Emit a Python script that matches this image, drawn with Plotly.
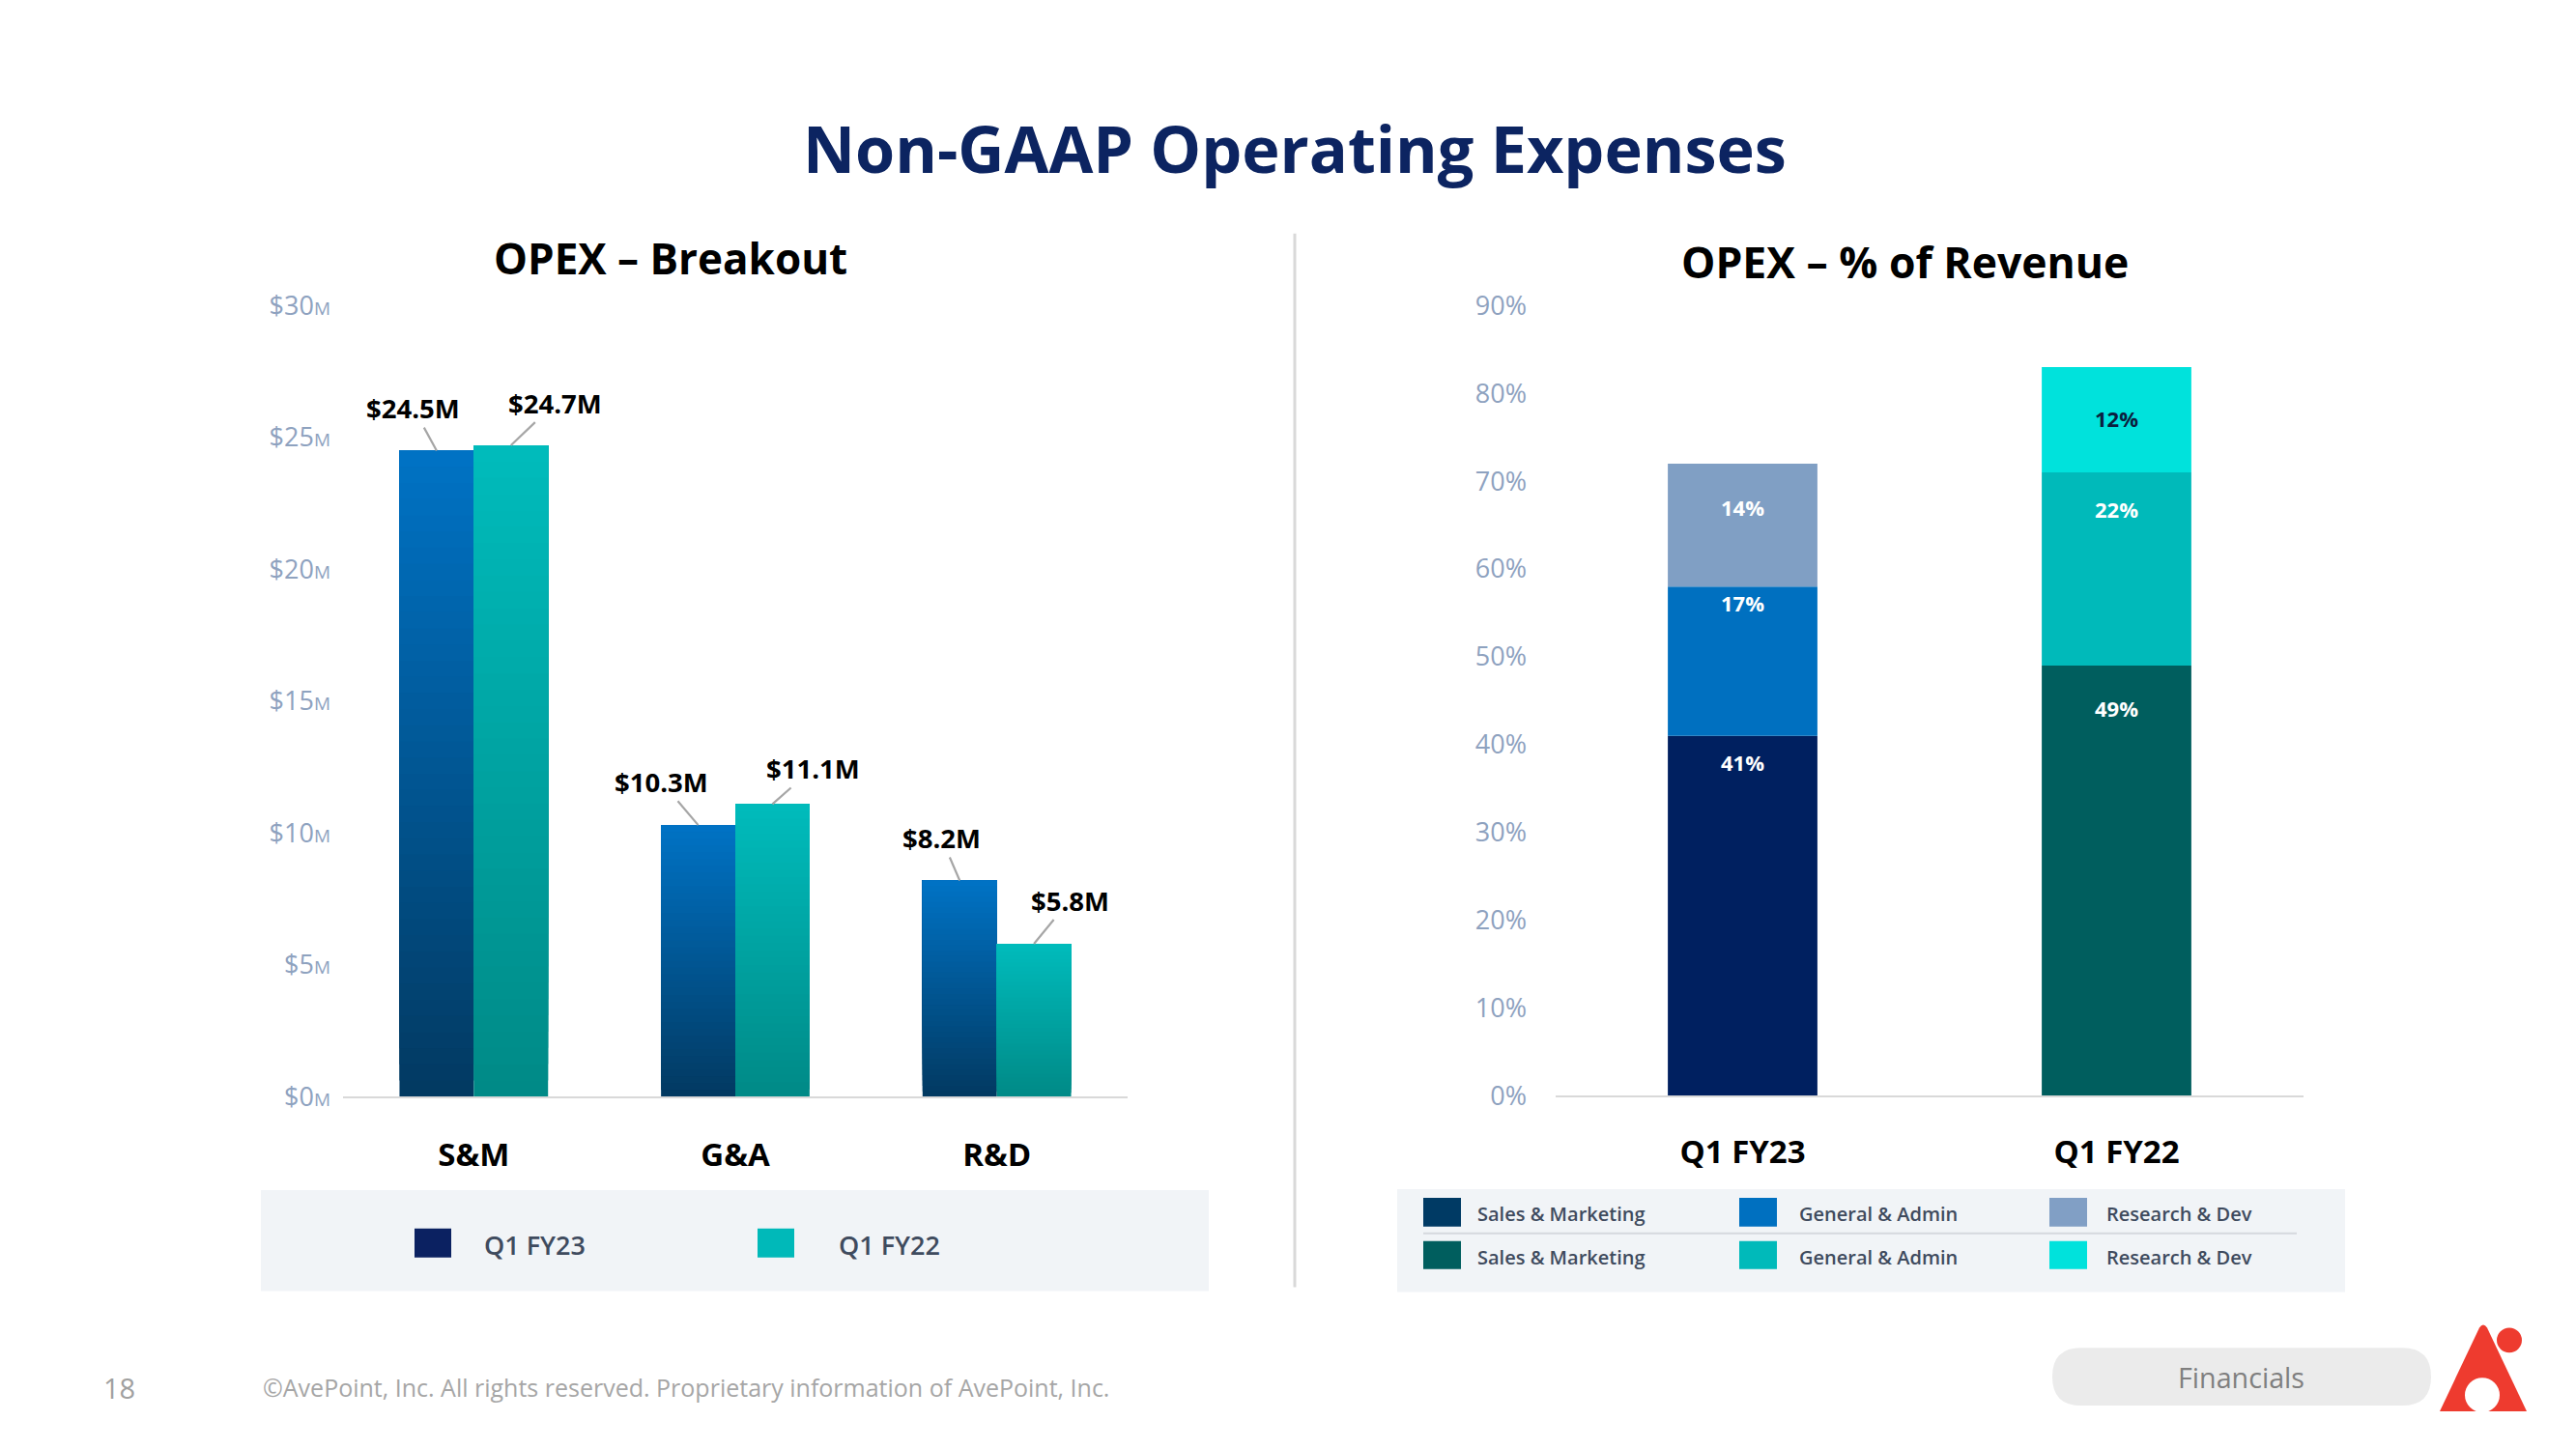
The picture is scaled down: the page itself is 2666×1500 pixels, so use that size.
import plotly.graph_objects as go

W, H = 2666, 1500

# ---------------- data ----------------
categories = ["S&M", "G&A", "R&D"]
q1_fy23 = [24.5, 10.3, 8.2]
q1_fy22 = [24.7, 11.1, 5.8]
labels_fy23 = ["$24.5M", "$10.3M", "$8.2M"]
labels_fy22 = ["$24.7M", "$11.1M", "$5.8M"]
left_tick_vals = [0, 5, 10, 15, 20, 25, 30]

periods = ["Q1 FY23", "Q1 FY22"]
pct_sales_marketing = [41, 49]
pct_general_admin = [17, 22]
pct_research_dev = [14, 12]
right_tick_vals = [0, 10, 20, 30, 40, 50, 60, 70, 80, 90]

# ---------------- helpers ----------------
# vertical calibration of the captured page (measured)
SY, OY = 0.979, 20.5

def px(x):
    return x / W

def py(y):
    return 1 - (y - OY) / (SY * H)

def vpx(v):
    return v / SY

def hex2rgb(h):
    h = h.lstrip("#")
    return tuple(int(h[i:i + 2], 16) for i in (0, 2, 4))

def lerp(c1, c2, t):
    a, b = hex2rgb(c1), hex2rgb(c2)
    r = [round(a[i] + (b[i] - a[i]) * t) for i in range(3)]
    return f"rgb({r[0]},{r[1]},{r[2]})"

FONT = "Open Sans"
TICK_COLOR = "#8EA2BF"
LEGEND_TEXT = "#3F4B5E"

def paper_text(x, y, text, size, color, weight="normal", xanchor="center"):
    return dict(x=px(x), y=py(y), xref="paper", yref="paper", text=text, showarrow=False,
                xanchor=xanchor, yanchor="middle",
                font=dict(family=FONT, size=size, color=color, weight=weight))

fig = go.Figure()

# ---------------- left chart: gradient bars ----------------
N = 40
left_series = [
    (q1_fy23, "#0072C4", "#023A62", -0.284),
    (q1_fy22, "#00BBBB", "#008A87", 0.0),
]
for vals, top_c, bot_c, off in left_series:
    for k in range(N):
        base = [v * k / N for v in vals]
        ys = [v - b for v, b in zip(vals, base)]
        fig.add_trace(go.Bar(
            x=categories, y=ys, base=base, width=0.284, offset=off,
            marker=dict(color=lerp(bot_c, top_c, k / (N - 1)), line=dict(width=0)),
            xaxis="x", yaxis="y", showlegend=False, hoverinfo="skip",
        ))

# ---------------- right chart: stacked bars ----------------
seg_values = [pct_sales_marketing, pct_general_admin, pct_research_dev]
seg_colors = [
    ["#002060", "#005E5E"],
    ["#0070C0", "#00BABA"],
    ["#809FC4", "#00E2DC"],
]
cum = [0, 0]
seg_tops = []
for vals, cols in zip(seg_values, seg_colors):
    fig.add_trace(go.Bar(
        x=periods, y=vals, base=list(cum), width=0.40, offset=-0.20,
        marker=dict(color=cols, line=dict(width=0)),
        xaxis="x2", yaxis="y2", showlegend=False, hoverinfo="skip",
    ))
    cum = [c + v for c, v in zip(cum, vals)]
    seg_tops.append(list(cum))

annotations = []
shapes = []

# percent labels inside stacked bars
label_drop = [[27, 43], [16, 37], [44, 52]]
label_color = [["white", "white"], ["white", "white"], ["white", "#0B1F3F"]]
for i, vals in enumerate(seg_values):
    for j, p in enumerate(periods):
        annotations.append(dict(
            x=p, y=seg_tops[i][j], xref="x2", yref="y2", text=f"{vals[j]}%",
            showarrow=False, yshift=-vpx(label_drop[i][j]), xanchor="center", yanchor="middle",
            font=dict(family=FONT, size=22, color=label_color[i][j], weight="bold"),
        ))

# callout labels for left bars
callout_fy23 = [(-24, -43), (-38, -44), (-19, -43)]
callout_fy22 = [(46, -43), (42, -36), (37, -44)]
for i in range(len(categories)):
    for vals, labs, off, co in [(q1_fy23, labels_fy23, -0.142, callout_fy23),
                                 (q1_fy22, labels_fy22, 0.142, callout_fy22)]:
        annotations.append(dict(
            x=i + off, y=vals[i], xref="x", yref="y", text=labs[i],
            showarrow=True, arrowhead=0, arrowwidth=2.2, arrowcolor="#A6A6A6",
            ax=co[i][0], ay=vpx(co[i][1]), standoff=0,
            font=dict(family=FONT, size=27.5, color="#000000", weight="bold"),
        ))

# titles
annotations += [
    paper_text(1340, 154, "Non-GAAP Operating Expenses", 66.5, "#0C2461", "bold"),
    paper_text(694, 268, "OPEX – Breakout", 44, "#000000", "bold"),
    paper_text(1971, 272, "OPEX – % of Revenue", 44.5, "#000000", "bold"),
]

# divider
shapes.append(dict(type="line", xref="paper", yref="paper", x0=px(1340), x1=px(1340),
                   y0=py(243), y1=py(1338), line=dict(color="#D9D9D9", width=3)))

# left legend box
shapes.append(dict(type="rect", xref="paper", yref="paper", x0=px(270), x1=px(1251),
                   y0=py(1342), y1=py(1237), fillcolor="#F1F4F7", line=dict(width=0), layer="below"))
for (x0, col, txt, tx) in [(429, "#0B2161", periods[0], 499), (784, "#00B9B9", periods[1], 866)]:
    shapes.append(dict(type="rect", xref="paper", yref="paper", x0=px(x0), x1=px(x0 + 38),
                       y0=py(1307), y1=py(1277), fillcolor=col, line=dict(width=0)))
    annotations.append(paper_text(tx, 1294, txt, 27, LEGEND_TEXT, 600, "left"))

# right legend box
shapes.append(dict(type="rect", xref="paper", yref="paper", x0=px(1446), x1=px(2427),
                   y0=py(1343), y1=py(1236), fillcolor="#F1F4F7", line=dict(width=0), layer="below"))
shapes.append(dict(type="line", xref="paper", yref="paper", x0=px(1473), x1=px(2377),
                   y0=py(1282), y1=py(1282), line=dict(color="#D5D9DE", width=2)))
legend_names = ["Sales & Marketing", "General & Admin", "Research & Dev"]
legend_row_cols = [["#003A64", "#0070C0", "#819FC5"], ["#005E5E", "#00BABA", "#00E2DC"]]
sw_x = [1473, 1800, 2121]
tx_x = [1527, 1860, 2178]
row_sw_y = [(1245, 1275), (1290, 1319)]
row_tx_y = [1262, 1307]
for r in range(2):
    for c in range(3):
        shapes.append(dict(type="rect", xref="paper", yref="paper", x0=px(sw_x[c]), x1=px(sw_x[c] + 39),
                           y0=py(row_sw_y[r][1]), y1=py(row_sw_y[r][0]),
                           fillcolor=legend_row_cols[r][c], line=dict(width=0)))
        annotations.append(paper_text(tx_x[c], row_tx_y[r], legend_names[c], 20, LEGEND_TEXT, 600, "left"))

# footer
annotations += [
    paper_text(123, 1442, "18", 29, "#A0A0A0"),
    paper_text(270, 1442, "©AvePoint, Inc. All rights reserved. Proprietary information of AvePoint, Inc.",
               25, "#A6A6A6", "normal", "left"),
    paper_text(2319, 1431, "Financials", 28.7, "#7F7F7F"),
]
# pill
x0, x1, y0, y1, r = 2124, 2516, 1401, 1461, 30
pill = (f"M {px(x0 + r)},{py(y0)} L {px(x1 - r)},{py(y0)} "
        f"Q {px(x1)},{py(y0)} {px(x1)},{py((y0 + y1) / 2)} "
        f"Q {px(x1)},{py(y1)} {px(x1 - r)},{py(y1)} L {px(x0 + r)},{py(y1)} "
        f"Q {px(x0)},{py(y1)} {px(x0)},{py((y0 + y1) / 2)} "
        f"Q {px(x0)},{py(y0)} {px(x0 + r)},{py(y0)} Z")
shapes.append(dict(type="path", xref="paper", yref="paper", path=pill,
                   fillcolor="#EBEBEB", line=dict(width=0), layer="below"))
# logo: red triangle with white arch hole and red dot
tri = (f"M {px(2525)},{py(1467)} L {px(2566)},{py(1380)} "
       f"Q {px(2570)},{py(1374)} {px(2574)},{py(1380)} L {px(2615)},{py(1467)} Z")
shapes.append(dict(type="path", xref="paper", yref="paper", path=tri,
                   fillcolor="#EE3B2F", line=dict(width=0)))
shapes.append(dict(type="circle", xref="paper", yref="paper", x0=px(2551), x1=px(2587),
                   y0=py(1468), y1=py(1432), fillcolor="white", line=dict(width=0)))
shapes.append(dict(type="rect", xref="paper", yref="paper", x0=px(2520), x1=px(2620),
                   y0=py(1480), y1=py(1467.5), fillcolor="white", line=dict(width=0)))
shapes.append(dict(type="circle", xref="paper", yref="paper", x0=px(2584), x1=px(2610),
                   y0=py(1406), y1=py(1380), fillcolor="#EE3B2F", line=dict(width=0)))

left_tick_text = [f"${v}<span style='font-size:19px'>M</span>" for v in left_tick_vals]
right_tick_text = [f"{v}%" for v in right_tick_vals]

fig.update_layout(
    width=W, height=H, autosize=False,
    margin=dict(l=0, r=0, t=0, b=0, pad=0),
    paper_bgcolor="white", plot_bgcolor="white",
    barmode="overlay",
    showlegend=False,
    xaxis=dict(domain=[px(355), px(1167)], type="category", categoryorder="array",
               categoryarray=categories, range=[-0.5, 2.5], showline=True,
               linecolor="#D9D9D9", linewidth=2, ticks="", showgrid=False, zeroline=False,
               ticklabelstandoff=30, tickfont=dict(family=FONT, size=33, color="#000000", weight="bold"),
               fixedrange=True),
    yaxis=dict(domain=[py(1140), py(318)], range=[0, 30], tickvals=left_tick_vals,
               ticktext=left_tick_text, showgrid=False, zeroline=False, showline=False,
               ticks="", ticklabelstandoff=12,
               tickfont=dict(family=FONT, size=27, color=TICK_COLOR), fixedrange=True),
    xaxis2=dict(domain=[px(1610), px(2384)], type="category", categoryorder="array",
                categoryarray=periods, range=[-0.5, 1.5], showline=True,
                linecolor="#D9D9D9", linewidth=2, ticks="", showgrid=False, zeroline=False,
                anchor="y2", ticklabelstandoff=28,
                tickfont=dict(family=FONT, size=33, color="#000000", weight="bold"), fixedrange=True),
    yaxis2=dict(domain=[py(1139), py(318)], range=[0, 90], tickvals=right_tick_vals,
                ticktext=right_tick_text, showgrid=False, zeroline=False, showline=False,
                ticks="", anchor="x2", ticklabelstandoff=29,
                tickfont=dict(family=FONT, size=27, color=TICK_COLOR), fixedrange=True),
    annotations=annotations,
    shapes=shapes,
)

post = (
    "document.documentElement.style.margin='0';"
    "document.documentElement.style.overflow='hidden';"
    "document.body.style.margin='0';document.body.style.overflow='hidden';"
    "var gd=document.getElementById('{plot_id}');"
    "gd.style.position='fixed';gd.style.left='0px';gd.style.top='0px';"
    "window.scrollTo(0,0);"
)
fig.write_html("out.html", config={"displayModeBar": False}, post_script=post)
